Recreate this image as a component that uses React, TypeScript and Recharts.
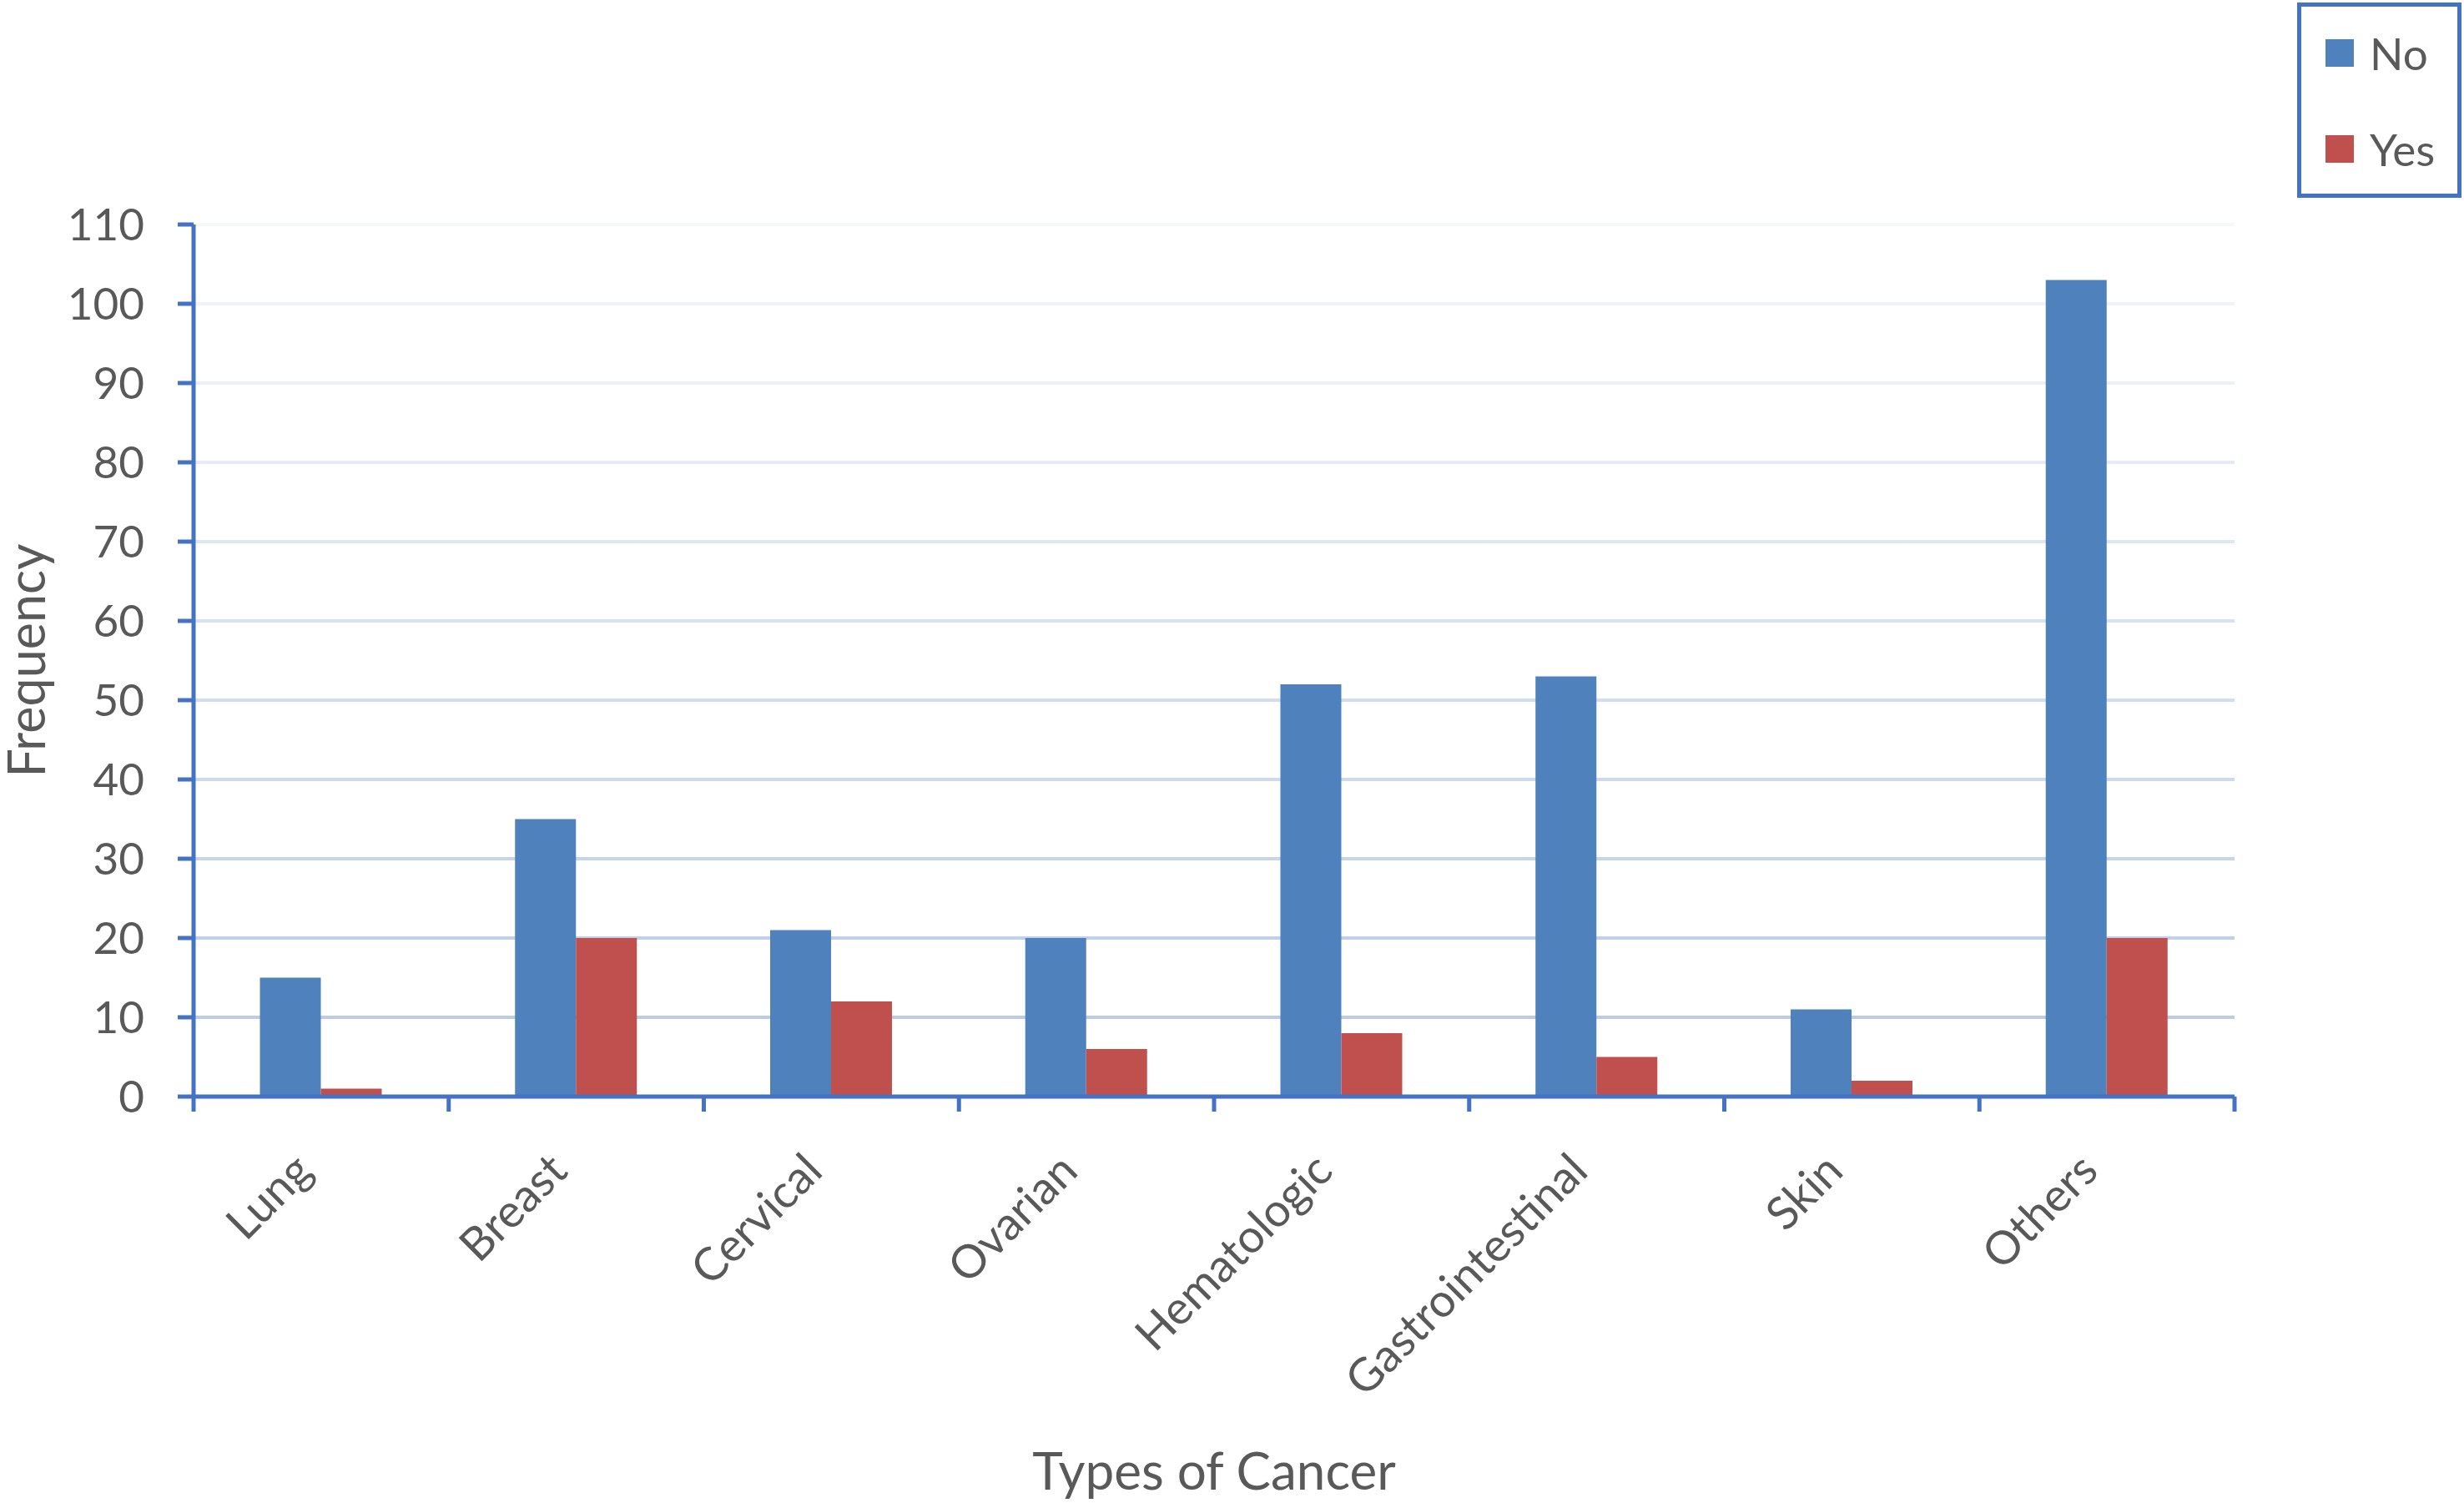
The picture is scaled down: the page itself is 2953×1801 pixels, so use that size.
import { BarChart, Bar, XAxis, YAxis, CartesianGrid, Legend, Label } from 'recharts';

const categories = ['Lung', 'Breast', 'Cervical', 'Ovarian', 'Hematologic', 'Gastrointestinal', 'Skin', 'Others'];
const noValues = [15, 35, 21, 20, 52, 53, 11, 103];
const yesValues = [1, 20, 12, 6, 8, 5, 2, 20];
const yTicks = [0, 10, 20, 30, 40, 50, 60, 70, 80, 90, 100, 110];

const FONT = 'Lato, "Open Sans", sans-serif';
const TEXT = '#595959';
const AXIS = '#4472C4';
const BLUE = '#4F81BD';
const RED = '#C0504D';

const data = categories.map((name, i) => ({ name, No: noValues[i], Yes: yesValues[i] }));

// category label plus the tick marks at the band edges (Excel style)
function CategoryTick(props: any) {
  const { x, y, payload, index, width } = props;
  const half = payload?.offset ?? width / categories.length / 2;
  const tx = x - 8;
  const ty = y + 92;
  return (
    <g>
      <line x1={x - half} y1={y} x2={x - half} y2={y + 18} stroke={AXIS} strokeWidth={5} />
      {index === categories.length - 1 && (
        <line x1={x + half} y1={y} x2={x + half} y2={y + 18} stroke={AXIS} strokeWidth={5} />
      )}
      <text x={tx} y={ty} transform={`rotate(-45 ${tx} ${ty})`} textAnchor="end" fill={TEXT} fontSize={55} fontFamily={FONT}>
        {payload.value}
      </text>
    </g>
  );
}

function LegendBox(props: any) {
  const items = props.payload ?? [];
  return (
    <div
      style={{
        boxSizing: 'border-box', width: 197, height: 234, border: `5px solid ${AXIS}`, background: '#fff',
        fontFamily: FONT, fontSize: 53, color: TEXT, paddingLeft: 29, paddingTop: 20,
      }}
    >
      {items.map((it: any) => (
        <div key={it.value} style={{ display: 'flex', alignItems: 'center', height: 70, marginBottom: 45 }}>
          <span style={{ display: 'inline-block', width: 34, height: 33, background: it.color, marginRight: 19 }} />
          <span style={{ lineHeight: 1 }}>{it.value}</span>
        </div>
      ))}
    </div>
  );
}

export default function App() {
  return (
    <div style={{ position: 'absolute', left: 0, top: 0, width: 2953, height: 1801, background: '#fff' }}>
      <BarChart
        width={2953}
        height={1801}
        data={data}
        margin={{ top: 269, right: 275, bottom: 486, left: 32 }}
        barCategoryGap="26%"
        barGap={0}
      >
        <defs>
          <linearGradient id="gridGrad" gradientUnits="userSpaceOnUse" x1="0" y1="269" x2="0" y2="1314">
            <stop offset="0%" stopColor="#F6F8FC" />
            <stop offset="100%" stopColor="#B4C7E7" />
          </linearGradient>
        </defs>
        <CartesianGrid vertical={false} stroke="url(#gridGrad)" strokeWidth={4} />
        <XAxis
          dataKey="name"
          height={1}
          interval={0}
          axisLine={{ stroke: AXIS, strokeWidth: 5 }}
          tickLine={false}
          tickSize={0}
          tickMargin={0}
          tick={<CategoryTick />}
        >
          <Label
            content={(p: any) => {
              const vb = p.viewBox;
              return (
                <text x={vb.x + vb.width / 2} y={vb.y + 471} textAnchor="middle" fill={TEXT} fontSize={62} fontFamily={FONT}>
                  Types of Cancer
                </text>
              );
            }}
          />
        </XAxis>
        <YAxis
          width={200}
          domain={[0, 110]}
          ticks={yTicks}
          interval={0}
          tickSize={19}
          tickMargin={40}
          axisLine={{ stroke: AXIS, strokeWidth: 5 }}
          tickLine={{ stroke: AXIS, strokeWidth: 5 }}
          tick={{ fill: TEXT, fontSize: 53, fontFamily: FONT }}
        >
          <Label
            content={(p: any) => {
              const vb = p.viewBox;
              const cx = vb.x + 22;
              const cy = vb.y + vb.height / 2;
              return (
                <text x={cx} y={cy} transform={`rotate(-90 ${cx} ${cy})`} textAnchor="middle" fill={TEXT} fontSize={61} fontFamily={FONT}>
                  Frequency
                </text>
              );
            }}
          />
        </YAxis>
        <Legend
          layout="vertical"
          align="center"
          verticalAlign="middle"
          content={<LegendBox />}
          wrapperStyle={{ left: 2753, top: 3, width: 197, height: 234 }}
        />
        <Bar dataKey="No" name="No" fill={BLUE} isAnimationActive={false} />
        <Bar dataKey="Yes" name="Yes" fill={RED} isAnimationActive={false} />
      </BarChart>
    </div>
  );
}
